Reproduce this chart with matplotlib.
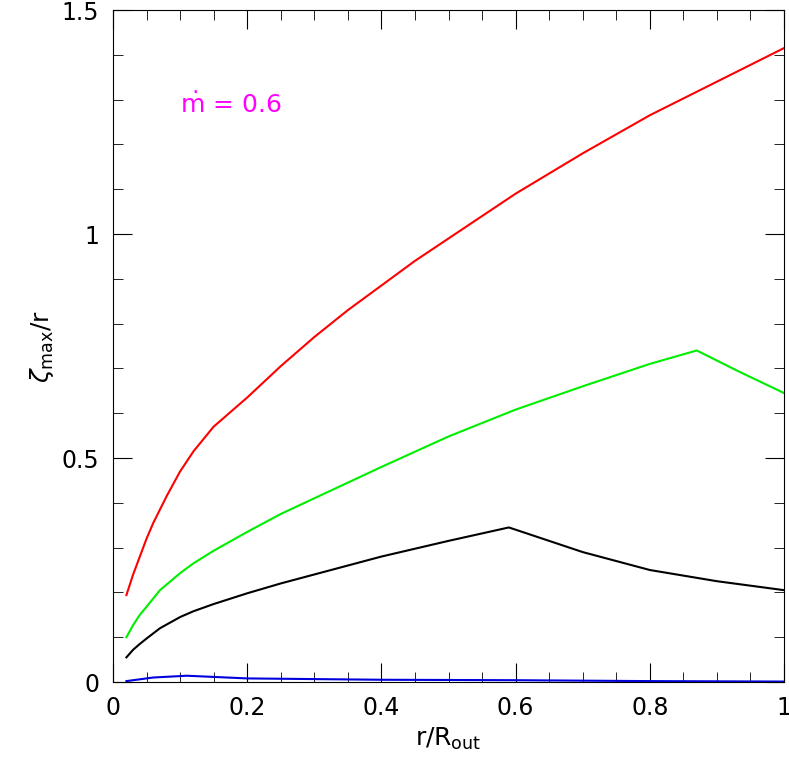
import matplotlib
matplotlib.use("Agg")
import matplotlib.pyplot as plt
from matplotlib.ticker import MultipleLocator, FuncFormatter

red_x = [0.02, 0.03, 0.04, 0.05, 0.06, 0.07, 0.08, 0.1, 0.12, 0.15, 0.2, 0.25, 0.3, 0.35, 0.4, 0.45, 0.5, 0.6, 0.7, 0.8, 0.9, 1.0]
red_y = [0.194, 0.24, 0.28, 0.32, 0.355, 0.385, 0.415, 0.47, 0.515, 0.57, 0.635, 0.705, 0.77, 0.83, 0.885, 0.94, 0.99, 1.09, 1.18, 1.265, 1.34, 1.415]
green_x = [0.02, 0.03, 0.04, 0.05, 0.07, 0.1, 0.12, 0.15, 0.2, 0.25, 0.3, 0.4, 0.5, 0.6, 0.7, 0.8, 0.87, 0.93, 1.0]
green_y = [0.10, 0.127, 0.15, 0.168, 0.205, 0.243, 0.265, 0.293, 0.335, 0.375, 0.41, 0.48, 0.548, 0.608, 0.66, 0.71, 0.74, 0.695, 0.645]
black_x = [0.02, 0.03, 0.04, 0.05, 0.07, 0.1, 0.12, 0.15, 0.2, 0.25, 0.3, 0.4, 0.5, 0.59, 0.65, 0.7, 0.8, 0.9, 1.0]
black_y = [0.055, 0.072, 0.085, 0.097, 0.12, 0.145, 0.158, 0.174, 0.198, 0.22, 0.24, 0.28, 0.315, 0.345, 0.315, 0.29, 0.25, 0.225, 0.205]
blue_x = [0.02, 0.06, 0.11, 0.2, 0.4, 0.6, 0.8, 1.0]
blue_y = [0.002, 0.01, 0.014, 0.008, 0.005, 0.004, 0.002, 0.001]

fig = plt.figure(figsize=(7.89, 7.68), dpi=100)
ax = fig.add_axes([113/789, 86/768, 671/789, 672/768])
ax.plot(red_x, red_y, color="#ff0000", lw=1.5)
ax.plot(green_x, green_y, color="#00ee00", lw=1.5)
ax.plot(black_x, black_y, color="black", lw=1.5)
ax.plot(blue_x, blue_y, color="#0000dd", lw=1.5)
ax.set_xlim(0, 1)
ax.set_ylim(0, 1.5)
ax.xaxis.set_major_locator(MultipleLocator(0.2))
ax.xaxis.set_minor_locator(MultipleLocator(0.05))
ax.yaxis.set_major_locator(MultipleLocator(0.5))
ax.yaxis.set_minor_locator(MultipleLocator(0.1))
ax.xaxis.set_major_formatter(FuncFormatter(lambda v, p: f"{v:g}"))
ax.yaxis.set_major_formatter(FuncFormatter(lambda v, p: f"{v:g}"))
ax.tick_params(which="both", direction="in", top=True, right=True, labelsize=17, pad=10)
ax.tick_params(which="major", length=14)
ax.tick_params(which="minor", length=7)
ax.set_xlabel(r"r/R$_{\rm out}$", fontsize=18)
ax.set_ylabel(r"$\zeta_{\rm max}$/r", fontsize=18)
ax.text(0.1, 1.27, r"$\dot{\rm m}$ = 0.6", color="magenta", fontsize=18)
fig.savefig("out.png", dpi=100)
